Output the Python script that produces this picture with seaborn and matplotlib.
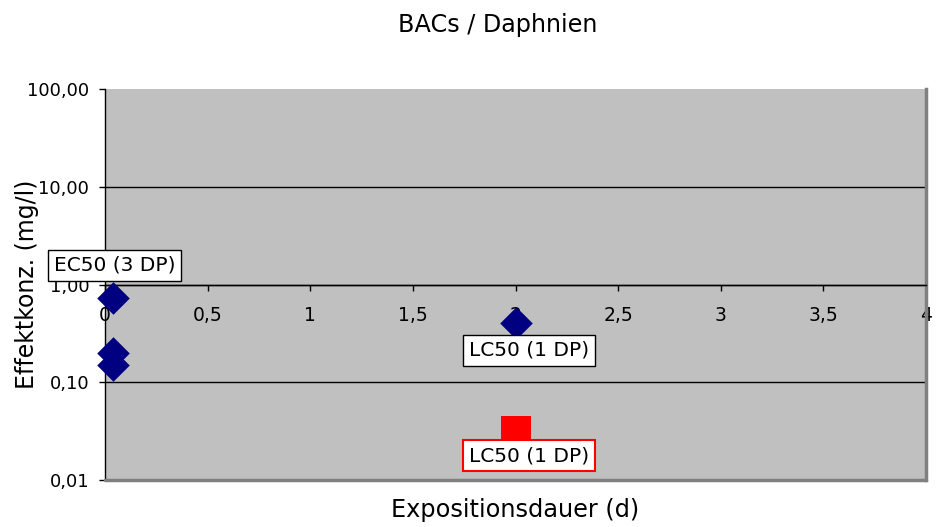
import numpy as np
import pandas as pd
import seaborn as sns
import matplotlib
matplotlib.use("Agg")
from matplotlib import pyplot as plt

# values
ec50_days = [0.04, 0.04, 0.04]
ec50_conc = [0.72, 0.20, 0.15]
lc50_days = [2.0]
lc50_conc = [0.40]
lc50_red_days = [2.0]
lc50_red_conc = [0.032]

label_ec50 = "EC50 (3 DP)"
label_lc50 = "LC50 (1 DP)"
label_lc50_red = "LC50 (1 DP)"

x_ticks = [0, 0.5, 1, 1.5, 2, 2.5, 3, 3.5, 4]
x_tick_labels = ["0", "0,5", "1", "1,5", "2", "2,5", "3", "3,5", "4"]
y_ticks = [0.01, 0.1, 1, 10, 100]
y_tick_labels = ["0,01", "0,10", "1,00", "10,00", "100,00"]

title = "BACs / Daphnien"
x_label = "Expositionsdauer (d)"
y_label = "Effektkonz. (mg/l)"

sns.set_style("white")
plt.rcParams["font.family"] = ["DejaVu Sans"]
plt.rcParams["text.color"] = "black"
plt.rcParams["axes.labelcolor"] = "black"
plt.rcParams["xtick.color"] = "black"
plt.rcParams["ytick.color"] = "black"

fig = plt.figure(figsize=(9.41, 5.27), dpi=100)
ax = fig.add_axes([105 / 941, 47 / 527, 821 / 941, 391 / 527])
ax.set_facecolor("#C0C0C0")

blue = pd.DataFrame({"d": ec50_days + lc50_days, "c": ec50_conc + lc50_conc})
red = pd.DataFrame({"d": lc50_red_days, "c": lc50_red_conc})

sns.scatterplot(data=blue, x="d", y="c", marker="D", s=275, color="#000080",
                linewidth=0, ax=ax, zorder=3, clip_on=False)
sns.scatterplot(data=red, x="d", y="c", marker="s", s=460, color="#FF0000",
                linewidth=0, ax=ax, zorder=3, clip_on=False)

ax.set_yscale("log")
ax.set_xlim(0, 4)
ax.set_ylim(0.01, 100)
ax.set_yticks(y_ticks)
ax.set_yticklabels(y_tick_labels)
ax.yaxis.set_minor_locator(matplotlib.ticker.NullLocator())
ax.set_xticks(x_ticks)
ax.set_xticklabels(x_tick_labels)

ax.tick_params(axis="y", direction="out", length=4.3, width=1, color="black",
               labelsize=13, pad=7, left=True)
ax.tick_params(axis="x", direction="out", length=4.3, width=1, color="black",
               labelsize=13.5, pad=11, bottom=True)

# gridlines
ax.yaxis.grid(True, color="black", linewidth=1)
gl = ax.yaxis.get_gridlines()
gl[0].set_visible(False)
gl[-1].set_visible(False)

# x axis crosses at 1
ax.spines["bottom"].set_position(("data", 1))
ax.spines["bottom"].set_color("black")
ax.spines["bottom"].set_linewidth(1)
ax.spines["left"].set_color("black")
ax.spines["left"].set_linewidth(1)
ax.spines["top"].set_visible(False)
ax.spines["right"].set_color("#808080")
ax.spines["right"].set_linewidth(2.5)
ax.plot([0, 1], [0, 0], transform=ax.transAxes, color="#808080", lw=2.5,
        clip_on=False, zorder=2.6)

box = dict(boxstyle="square,pad=0.3", fc="white", ec="black", lw=1)
ax.annotate(label_ec50, (ec50_days[0], ec50_conc[0]), xytext=(1, 24),
            textcoords="offset points", ha="center", va="center", fontsize=14.5,
            bbox=box, annotation_clip=False, zorder=4)
ax.annotate(label_lc50, (lc50_days[0], lc50_conc[0]), xytext=(9.7, -19.4),
            textcoords="offset points", ha="center", va="center", fontsize=14.5,
            bbox=box, annotation_clip=False, zorder=4)
ax.annotate(label_lc50_red, (lc50_red_days[0], lc50_red_conc[0]), xytext=(9.7, -18),
            textcoords="offset points", ha="center", va="center", fontsize=14.5,
            bbox=dict(boxstyle="square,pad=0.3", fc="white", ec="#FF0000", lw=1.5),
            annotation_clip=False, zorder=4)

ax.set_xlabel(x_label, fontsize=17.3)
ax.xaxis.set_label_coords(0.5, -0.045)
ax.set_ylabel(y_label, fontsize=17, va="center")
ax.yaxis.set_label_coords(-0.095, 0.5)

fig.text(498 / 941, (527 - 32) / 527, title, ha="center", va="baseline", fontsize=17.2)

fig.savefig("out.png", dpi=100)
